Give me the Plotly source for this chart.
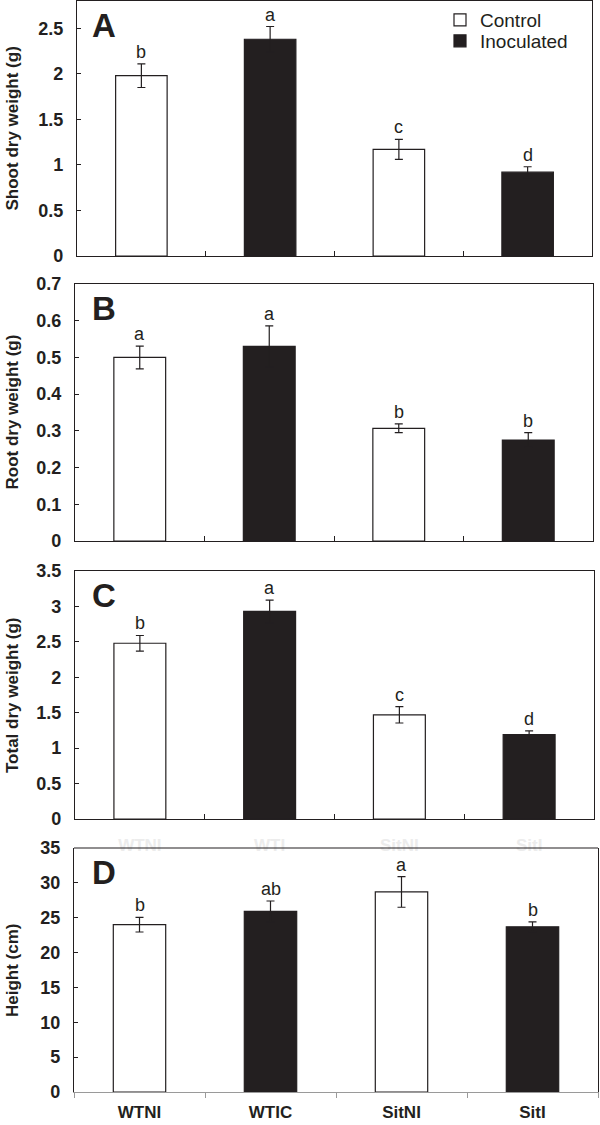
import plotly.graph_objects as go

# ---------------- data ----------------
categories_abc = ["WTNI", "WTI", "SitNI", "SitI"]
categories_d = ["WTNI", "WTIC", "SitNI", "SitI"]
treatment = ["Control", "Inoculated", "Control", "Inoculated"]

shoot_mean = [1.98, 2.38, 1.17, 0.92]
shoot_err = [0.13, 0.14, 0.11, 0.06]
shoot_letters = ["b", "a", "c", "d"]

root_mean = [0.50, 0.53, 0.307, 0.275]
root_err = [0.031, 0.056, 0.012, 0.020]
root_letters = ["a", "a", "b", "b"]

total_mean = [2.48, 2.93, 1.47, 1.19]
total_err = [0.11, 0.16, 0.115, 0.055]
total_letters = ["b", "a", "c", "d"]

height_mean = [24.0, 25.9, 28.7, 23.7]
height_err = [1.05, 1.5, 2.2, 0.7]
height_letters = ["b", "ab", "a", "b"]

panel_labels = ["A", "B", "C", "D"]
y_titles = ["Shoot dry weight (g)", "Root dry weight (g)",
            "Total dry weight (g)", "Height (cm)"]

# ---------------- style / layout ----------------
W, H = 600, 1125
DARK = "#231f20"
FONT = "Liberation Sans, Arial, Helvetica, sans-serif"

# pixel boxes of each panel: (left, right, top, bottom)
boxes = [(77, 592, 1, 256), (75, 593, 284, 541), (75, 594, 571, 819), (74, 598, 848, 1092)]
yranges = [[0, 2.8], [0, 0.7], [0, 3.5], [0, 35]]
dticks = [0.5, 0.1, 0.5, 5]

panels = [
    (categories_abc, shoot_mean, shoot_err, shoot_letters),
    (categories_abc, root_mean, root_err, root_letters),
    (categories_abc, total_mean, total_err, total_letters),
    (categories_d, height_mean, height_err, height_letters),
]

legend_of = {"Control": "legend", "Inoculated": "legend2"}

fig = go.Figure()
annotations = []
shapes = []
layout = {}

for i, (cats, mean, err, letters) in enumerate(panels):
    n = i + 1
    xa = "x" if n == 1 else f"x{n}"
    ya = "y" if n == 1 else f"y{n}"
    for grp, fill in [("Control", "white"), ("Inoculated", DARK)]:
        idx = [k for k, t in enumerate(treatment) if t == grp]
        fig.add_trace(go.Bar(
            x=[cats[k] for k in idx],
            y=[mean[k] for k in idx],
            error_y=dict(type="data", array=[err[k] for k in idx],
                         color=DARK, thickness=1.2, width=4),
            width=0.4,
            marker=dict(color=fill, line=dict(color=DARK, width=1.2)),
            name=grp, showlegend=(n == 1), legend=legend_of[grp],
            xaxis=xa, yaxis=ya,
        ))
    for k in range(len(cats)):
        annotations.append(dict(
            x=cats[k], y=mean[k] + err[k], xref=xa, yref=ya,
            text=letters[k], showarrow=False, yanchor="bottom", yshift=0,
            font=dict(family=FONT, size=18, color=DARK)))

    l, r, t, b = boxes[i]
    xdom = [l / W, r / W]
    ydom = [1 - b / H, 1 - t / H]
    last = (n == 4)
    xkey = "xaxis" if n == 1 else f"xaxis{n}"
    ykey = "yaxis" if n == 1 else f"yaxis{n}"
    layout[xkey] = dict(
        domain=xdom, anchor=ya, type="category",
        categoryorder="array", categoryarray=cats,
        range=[-0.5, 3.5], tickson="boundaries",
        showline=True, mirror=not last,
        linecolor="#9a9a9a" if last else DARK, linewidth=1.2,
        ticks="outside" if last else "inside", ticklen=5,
        tickcolor="#9a9a9a" if last else DARK, tickwidth=1.2,
        showgrid=False, zeroline=False,
        showticklabels=(n >= 3),
        tickfont=dict(family=FONT, size=17,
                      color=DARK if last else "#ececec",
                      weight="bold"),
        ticklabelstandoff=4 if last else 10,
    )
    layout[ykey] = dict(
        domain=ydom, anchor=xa, range=yranges[i], dtick=dticks[i],
        showline=True, mirror=True, linecolor=DARK, linewidth=1.2,
        ticks="inside", ticklen=4, tickcolor=DARK, tickwidth=1.2,
        showgrid=False, zeroline=False,
        tickfont=dict(family=FONT, size=18, color=DARK, weight="bold"),
        ticklabelstandoff=9,
    )
    # panel letter (centre of the capital)
    annotations.append(dict(
        x=90 / W, y=1 - (t + 24) / H, xref="paper", yref="paper",
        xanchor="left", yanchor="middle", text=f"<b>{panel_labels[i]}</b>",
        showarrow=False, font=dict(family=FONT, size=33, color=DARK)))
    # y title
    annotations.append(dict(
        x=12 / W, y=1 - (t + b) / 2 / H, xref="paper", yref="paper",
        xanchor="center", yanchor="middle", textangle=-90,
        text=f"<b>{y_titles[i]}</b>", showarrow=False,
        font=dict(family=FONT, size=17, color=DARK)))
    if last:
        shapes.append(dict(type="line", xref=f"{xa} domain", yref=f"{ya} domain",
                           x0=0, x1=1, y0=1, y1=1,
                           line=dict(color=DARK, width=1.2)))

legend_style = dict(xanchor="left", yanchor="middle", bgcolor="rgba(0,0,0,0)",
                    font=dict(family=FONT, size=19, color=DARK), itemwidth=30)

fig.update_layout(
    width=W, height=H,
    margin=dict(l=0, r=0, t=0, b=0, pad=0, autoexpand=False),
    paper_bgcolor="white", plot_bgcolor="white",
    barmode="overlay",
    annotations=annotations, shapes=shapes,
    legend=dict(x=440 / W, y=1 - 20 / H, **legend_style),
    legend2=dict(x=440 / W, y=1 - 41 / H, **legend_style),
    font=dict(family=FONT, color=DARK),
    **layout,
)

post = (
    "document.body.style.margin='0';"
)

fig.write_html("out.html", config={"displayModeBar": False}, post_script=post)
